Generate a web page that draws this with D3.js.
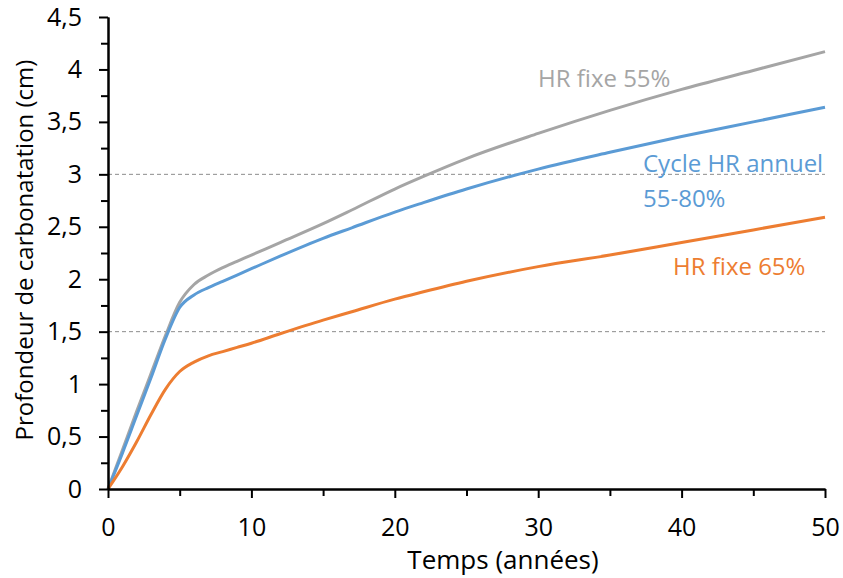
<!DOCTYPE html>
<html>
<head>
<meta charset="utf-8">
<script src="https://cdn.jsdelivr.net/npm/d3@7"></script>
<style>
  body { margin: 0; background: #fff; }
  text { font-family: "Open Sans", Lato, sans-serif; }
</style>
</head>
<body>
<svg id="chart"></svg>
<script>
// Time (years) where the curves were read
const years = [0, 1, 2, 3, 4, 5, 6, 7, 8, 9, 10, 12, 15, 17, 20, 22, 25, 30, 35, 40, 45, 50];

// Carbonation depth (cm) per scenario
const hr55 = [0, 0.37, 0.74, 1.10, 1.46, 1.78, 1.95, 2.04, 2.11, 2.17, 2.23, 2.35, 2.53, 2.66, 2.86, 2.98, 3.15, 3.39, 3.61, 3.81, 3.99, 4.17];
const cycle = [0, 0.34, 0.70, 1.06, 1.43, 1.73, 1.85, 1.92, 1.98, 2.04, 2.10, 2.22, 2.39, 2.49, 2.64, 2.73, 2.86, 3.05, 3.21, 3.36, 3.50, 3.64];
const hr65 = [0, 0.21, 0.45, 0.71, 0.95, 1.12, 1.21, 1.27, 1.31, 1.35, 1.39, 1.48, 1.61, 1.69, 1.81, 1.88, 1.98, 2.12, 2.23, 2.35, 2.47, 2.59];

const xTicks = [0, 10, 20, 30, 40, 50];
const xMinor = [5, 15, 25, 35, 45];
const yTicks = [0, 0.5, 1, 1.5, 2, 2.5, 3, 3.5, 4, 4.5];
const yMinor = [0.25, 0.75, 1.25, 1.75, 2.25, 2.75, 3.25, 3.75, 4.25];
const refLines = [1.5, 3];

const series = [
  {name: "HR fixe 55%", values: hr55, color: "#a5a5a5"},
  {name: "Cycle HR annuel", values: cycle, color: "#5b9bd5"},
  {name: "HR fixe 65%", values: hr65, color: "#ed7d31"}
];

const width = 843, height = 578;
const margin = {top: 17, right: 18, bottom: 89, left: 108};

const svg = d3.select("#chart")
  .attr("width", width)
  .attr("height", height);

const x = d3.scaleLinear().domain([0, 50]).range([margin.left, width - margin.right]);
const y = d3.scaleLinear().domain([0, 4.5]).range([height - margin.bottom, margin.top]);

const fmt = d => String(d).replace(".", ",");

// dashed reference lines
svg.selectAll("line.ref")
  .data(refLines)
  .enter()
  .append("line")
  .attr("class", "ref")
  .attr("x1", x(0))
  .attr("x2", x(50))
  .attr("y1", d => y(d))
  .attr("y2", d => y(d))
  .style("stroke", "#8c8c8c")
  .style("stroke-width", 1)
  .style("stroke-dasharray", "4,3");

// curves
const line = d3.line()
  .x((d, i) => x(years[i]))
  .y(d => y(d))
  .curve(d3.curveMonotoneX);

svg.selectAll("path.series")
  .data(series)
  .enter()
  .append("path")
  .attr("class", "series")
  .attr("fill", "none")
  .attr("stroke", d => d.color)
  .attr("stroke-width", 3)
  .attr("stroke-linejoin", "round")
  .attr("d", d => line(d.values));

// minor ticks
const xAxisMinor = svg.append("g")
  .attr("transform", `translate(0, ${y(0)})`)
  .call(d3.axisBottom(x).tickValues(xMinor).tickSize(7).tickSizeOuter(0).tickFormat(() => ""));
const yAxisMinor = svg.append("g")
  .attr("transform", `translate(${x(0)}, 0)`)
  .call(d3.axisLeft(y).tickValues(yMinor).tickSize(7).tickSizeOuter(0).tickFormat(() => ""));

// main axes
const xAxis = svg.append("g")
  .attr("transform", `translate(0, ${y(0)})`)
  .call(d3.axisBottom(x).tickValues(xTicks).tickSize(9).tickPadding(20).tickSizeOuter(0).tickFormat(fmt));
const yAxis = svg.append("g")
  .attr("transform", `translate(${x(0)}, 0)`)
  .call(d3.axisLeft(y).tickValues(yTicks).tickSize(9).tickPadding(17).tickSizeOuter(0).tickFormat(fmt));

[xAxis, yAxis, xAxisMinor, yAxisMinor].forEach(g => {
  g.select(".domain").style("stroke", "#000").style("stroke-width", 2);
  g.selectAll(".tick line").style("stroke", "#000").style("stroke-width", 2);
  g.selectAll(".tick text").style("fill", "#000").style("font-size", "25px")
    .style("font-family", "'Open Sans', sans-serif");
});

// annotations
const labels = [
  {text: "HR fixe 55%", x: 538, y: 87, color: "#a5a5a5"},
  {text: "Cycle HR annuel", x: 643, y: 172, color: "#5b9bd5"},
  {text: "55-80%", x: 643, y: 207, color: "#5b9bd5"},
  {text: "HR fixe 65%", x: 673, y: 275, color: "#ed7d31"}
];
svg.selectAll("text.note")
  .data(labels)
  .enter()
  .append("text")
  .attr("class", "note")
  .attr("x", d => d.x)
  .attr("y", d => d.y)
  .attr("fill", d => d.color)
  .style("font-size", "24px")
  .text(d => d.text);

// axis titles
svg.append("text")
  .attr("x", 503)
  .attr("y", 569)
  .attr("text-anchor", "middle")
  .style("font-size", "26px")
  .text("Temps (années)");

svg.append("text")
  .attr("transform", `translate(33, 250) rotate(-90)`)
  .attr("text-anchor", "middle")
  .style("font-size", "24px")
  .text("Profondeur de carbonatation (cm)");
</script>
</body>
</html>
